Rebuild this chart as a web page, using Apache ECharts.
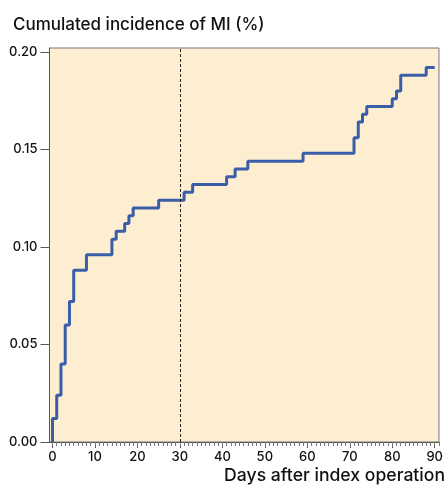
<!DOCTYPE html>
<html>
<head>
<meta charset="utf-8">
<script src="https://cdn.jsdelivr.net/npm/echarts@6/dist/echarts.min.js"></script>
<style>html,body{margin:0;padding:0;background:#fff;}#c{width:446px;height:486px;}</style>
</head>
<body>
<div id="c"></div>
<script>
var days = [0, 0, 1, 2, 3, 4, 5, 8, 14, 15, 17, 18, 19, 25, 31, 33, 41, 43, 46, 59, 71, 72, 73, 74, 80, 81, 82, 88, 90];
var incidence = [0, 0.012, 0.024, 0.040, 0.060, 0.072, 0.088, 0.096, 0.104, 0.108, 0.112, 0.116, 0.120, 0.124, 0.128, 0.132, 0.136, 0.140, 0.144, 0.148, 0.156, 0.164, 0.168, 0.172, 0.176, 0.180, 0.188, 0.192, 0.192];
var xTicks = [0, 10, 20, 30, 40, 50, 60, 70, 80, 90];
var xMinorTicks = [0,1,2,3,4,5,6,7,8,9,10,11,12,13,14,15,16,17,18,19,20,21,22,23,24,25,26,27,28,29,30,31,32,33,34,35,36,37,38,39,40,41,42,43,44,45,46,47,48,49,50,51,52,53,54,55,56,57,58,59,60,61,62,63,64,65,66,67,68,69,70,71,72,73,74,75,76,77,78,79,80,81,82,83,84,85,86,87,88,89,90,91];
var yTicks = [0, 0.05, 0.10, 0.15, 0.20];
var cutoffDay = 30;
var titleText = 'Cumulated incidence of MI (%)';
var xName = 'Days after index operation';

var points = days.map(function (d, i) { return [d, incidence[i]]; });
var font = 'Inter, "Liberation Sans", Arial, sans-serif';
var chart = echarts.init(document.getElementById('c'));
chart.setOption({
  animation: false,
  title: [
    { text: titleText, left: 13, top: 16, padding: 0, textStyle: { fontFamily: font, fontSize: 17, fontWeight: 500, color: '#111' } },
    { text: xName, right: 1, top: 467, padding: 0, textStyle: { fontFamily: font, fontSize: 17.6, fontWeight: 500, color: '#111' } }
  ],
  grid: { left: 49.5, right: 3.5, top: 48, bottom: 44, show: true, backgroundColor: '#FDEED2', borderColor: '#777', borderWidth: 1 },
  xAxis: [
    {
      type: 'value', min: -0.7, max: 91,
      axisLine: { show: true, onZero: false, lineStyle: { color: '#555', width: 1 } },
      axisTick: { show: true, customValues: xTicks, length: 6, lineStyle: { color: '#555' } },
      axisLabel: { show: true, customValues: xTicks, margin: 9, fontFamily: font, fontSize: 13, fontWeight: 500, color: '#111' },
      splitLine: { show: false }
    },
    {
      type: 'value', min: -0.7, max: 91, position: 'bottom',
      axisLine: { show: false, onZero: false },
      axisTick: { show: true, customValues: xMinorTicks, length: 4, lineStyle: { color: '#777' } },
      axisLabel: { show: false },
      splitLine: { show: false }
    }
  ],
  yAxis: {
    type: 'value', min: 0, max: 0.202,
    axisLine: { show: true, onZero: false, lineStyle: { color: '#555', width: 1 } },
    axisTick: { show: true, customValues: yTicks, length: 9, lineStyle: { color: '#555' } },
    axisLabel: { show: true, customValues: yTicks, margin: 12, fontFamily: font, fontSize: 13, fontWeight: 500, color: '#111',
      formatter: function (v) { return v.toFixed(2); } },
    splitLine: { show: false }
  },
  series: [{
    type: 'line', step: 'end', data: points, symbol: 'none',
    lineStyle: { color: '#3A5DA8', width: 3 },
    markLine: {
      silent: true, symbol: 'none', label: { show: false },
      lineStyle: { type: [3, 2], color: '#222', width: 1 },
      data: [{ xAxis: cutoffDay }]
    }
  }]
});
</script>
</body>
</html>
